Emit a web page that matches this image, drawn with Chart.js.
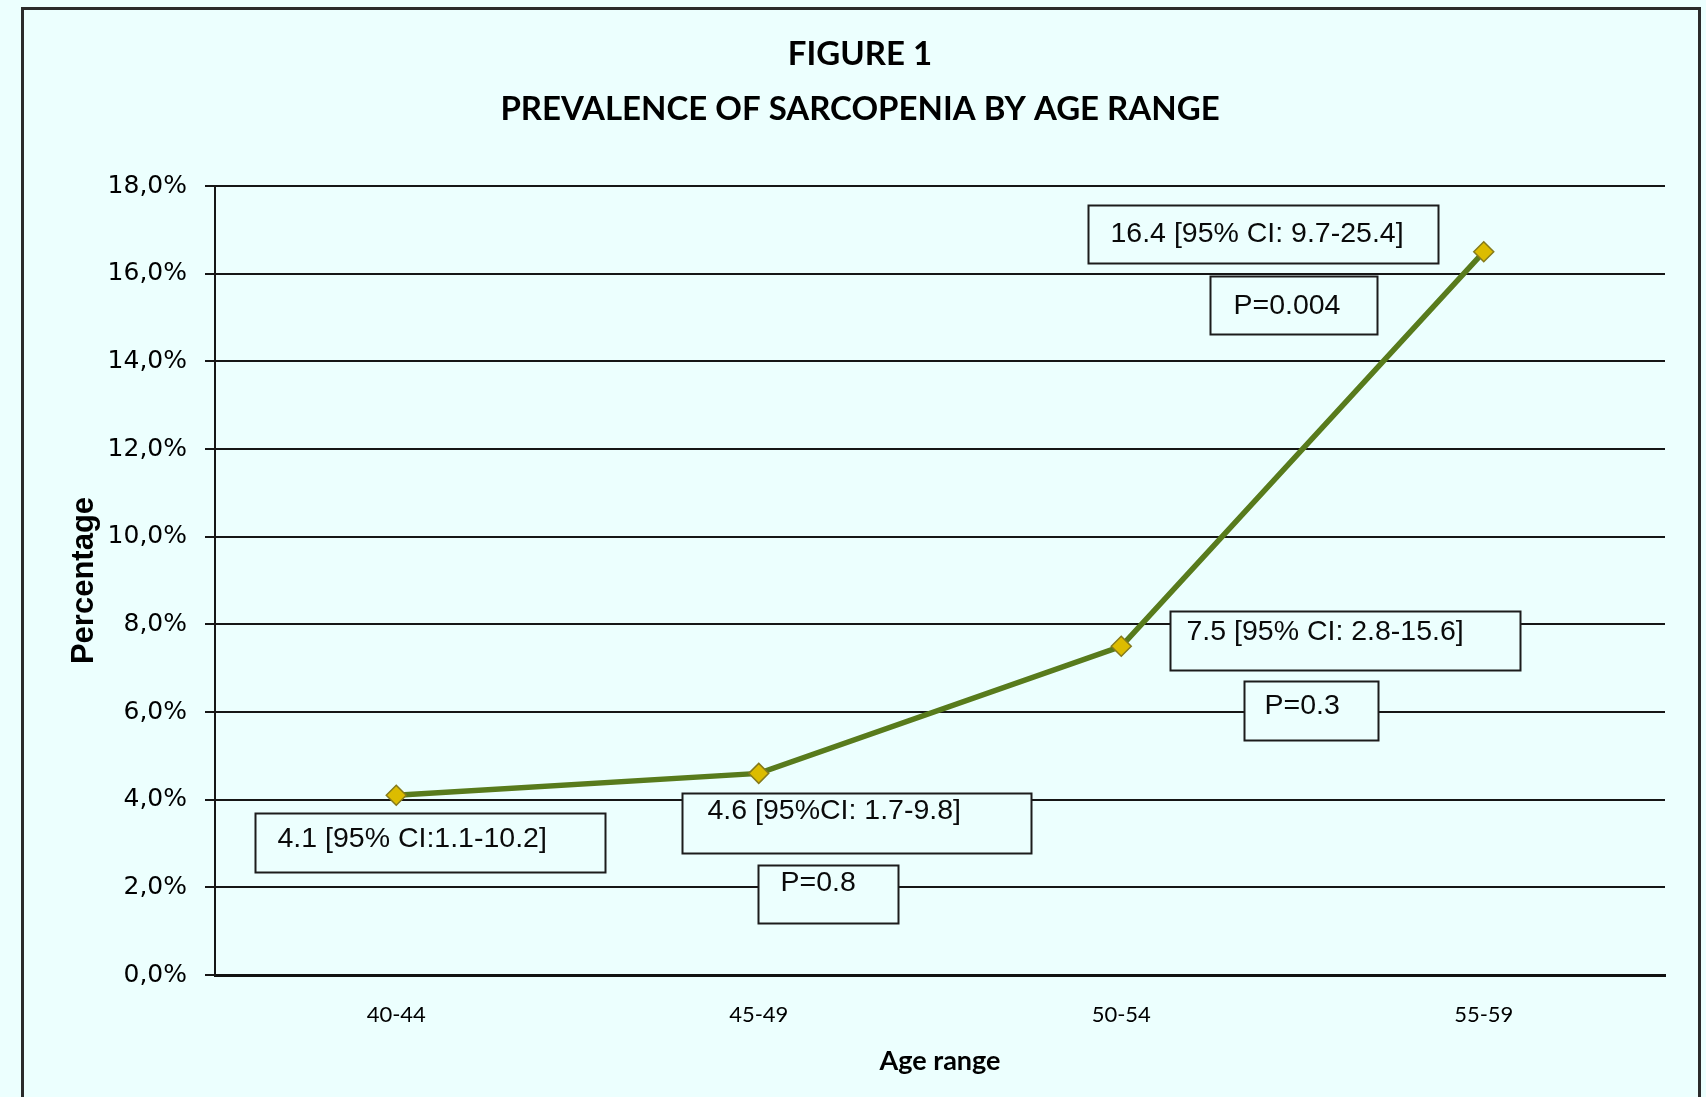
<!DOCTYPE html>
<html>
<head>
<meta charset="utf-8">
<script src="https://cdn.jsdelivr.net/npm/chart.js@4.4.1/dist/chart.umd.min.js"></script>
<style>
  html, body { margin: 0; padding: 0; background: #ecfffe; }
  #wrap { width: 1706px; height: 1097px; position: relative; }
</style>
</head>
<body>
<div id="wrap"><canvas id="c" width="1706" height="1097"></canvas></div>
<script>
// ---- data ----
const categories = ['40-44', '45-49', '50-54', '55-59'];
const prevalence = [4.1, 4.6, 7.5, 16.5];
const ciLabels = ['4.1 [95% CI:1.1-10.2]', '4.6 [95%CI: 1.7-9.8]', '7.5 [95% CI: 2.8-15.6]', '16.4 [95% CI: 9.7-25.4]'];
const pLabels = [null, 'P=0.8', 'P=0.3', 'P=0.004'];
const titleLines = ['FIGURE 1', 'PREVALENCE OF SARCOPENIA BY AGE RANGE'];
const yTitle = 'Percentage';
const xTitle = 'Age range';

// ---- annotation box layout (pixel offsets relative to each point) ----
const ciBoxLayout = [
  { dx: -141, dy: 18, w: 350, h: 59, pad: 22, ty: -4 },
  { dx: -77, dy: 20, w: 349, h: 60, pad: 25, ty: -12 },
  { dx: 49, dy: -35, w: 350, h: 59, pad: 16, ty: -9 },
  { dx: -396, dy: -47, w: 350, h: 58, pad: 22, ty: 0 }
];
const pBoxLayout = [
  null,
  { dx: -1, dy: 92, w: 140, h: 58, pad: 22, ty: -11 },
  { dx: 123, dy: 35, w: 134, h: 59, pad: 20, ty: -5 },
  { dx: -274, dy: 24, w: 167, h: 58, pad: 23, ty: 1 }
];

const BG = '#ecfffe';

const framePlugin = {
  id: 'frame',
  beforeDraw(chart) {
    const ctx = chart.ctx;
    ctx.save();
    ctx.fillStyle = BG;
    ctx.fillRect(0, 0, chart.width, chart.height);
    ctx.strokeStyle = '#2b2b2b';
    ctx.lineWidth = 3;
    ctx.strokeRect(22.5, 8.5, 1677, 1200);
    ctx.restore();
  }
};

const boxesPlugin = {
  id: 'boxes',
  afterDatasetsDraw(chart) {
    const ctx = chart.ctx;
    const xs = chart.scales.x, ys = chart.scales.y;
    ctx.save();
    ctx.font = '28.5px "Liberation Sans", Arial, sans-serif';
    ctx.textBaseline = 'middle';
    ctx.textAlign = 'left';
    const drawBox = (text, L, i) => {
      const px = xs.getPixelForValue(i);
      const py = ys.getPixelForValue(prevalence[i]);
      const x = Math.round(px + L.dx) + 0.5, y = Math.round(py + L.dy) + 0.5;
      ctx.fillStyle = BG;
      ctx.fillRect(x, y, L.w, L.h);
      ctx.strokeStyle = '#1c1c1c';
      ctx.lineWidth = 2;
      ctx.strokeRect(x, y, L.w, L.h);
      ctx.fillStyle = '#0a0a0a';
      ctx.fillText(text, x + L.pad, y + L.h / 2 + L.ty);
    };
    ciLabels.forEach((t, i) => { if (t) drawBox(t, ciBoxLayout[i], i); });
    pLabels.forEach((t, i) => { if (t) drawBox(t, pBoxLayout[i], i); });
    ctx.restore();
  }
};

new Chart(document.getElementById('c'), {
  type: 'line',
  data: {
    labels: categories,
    datasets: [{
      data: prevalence,
      borderColor: '#587b1c',
      borderWidth: 5.5,
      pointStyle: 'rectRot',
      pointRadius: 10,
      pointHoverRadius: 10,
      pointBackgroundColor: '#dcbc00',
      pointBorderColor: '#857a1c',
      pointBorderWidth: 1.5,
      tension: 0,
      fill: false
    }]
  },
  options: {
    responsive: false,
    animation: false,
    events: [],
    layout: { padding: { left: 55, right: 41, top: 0, bottom: 0 } },
    plugins: {
      legend: { display: false },
      tooltip: { enabled: false },
      title: {
        display: true,
        text: titleLines,
        color: '#000',
        font: { family: 'Lato, "Open Sans", sans-serif', size: 33, weight: 'bold', lineHeight: 1.667 },
        padding: { top: 26.5, bottom: 49.5 }
      }
    },
    scales: {
      x: {
        offset: true,
        grid: { display: false, drawTicks: false },
        border: { display: true, color: '#111', width: 3 },
        ticks: { color: '#000', padding: 27, font: { family: 'Lato, sans-serif', size: 22 } },
        title: {
          display: true, text: xTitle, color: '#000',
          font: { family: 'Lato, sans-serif', size: 27, weight: 'bold' },
          padding: { top: 0, bottom: 20 }
        },
        afterFit(s) { s.height = 122; }
      },
      y: {
        min: 0, max: 18,
        ticks: {
          stepSize: 2, color: '#000', padding: 18,
          font: { family: '"DejaVu Sans", Verdana, sans-serif', size: 25 },
          callback: v => v.toFixed(1).replace('.', ',') + '%'
        },
        grid: { color: '#161616', lineWidth: 2, tickLength: 10, drawTicks: true },
        border: { display: true, color: '#161616', width: 2 },
        title: {
          display: true, text: yTitle, color: '#000',
          font: { family: '"Liberation Sans", Arial, sans-serif', size: 31, weight: 'bold' },
          padding: { top: 11, bottom: 0 }
        },
        afterFit(s) { s.width = 160; }
      }
    }
  },
  plugins: [framePlugin, boxesPlugin]
});
</script>
</body>
</html>
